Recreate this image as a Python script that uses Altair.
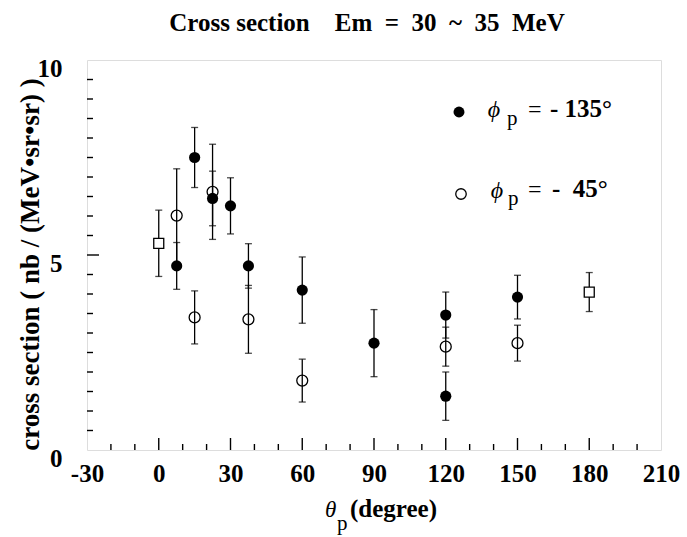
import altair as alt
import pandas as pd

# Measured cross sections (nb / (MeV sr sr)) versus proton angle theta_p (degrees)
theta_135 = [7.5, 15, 22.5, 30, 37.5, 60, 90, 120, 120, 150]
xs_135 = [4.72, 7.50, 6.45, 6.26, 4.72, 4.10, 2.74, 3.46, 1.38, 3.92]
err_135 = [0.60, 0.77, 0.70, 0.72, 0.57, 0.85, 0.86, 0.59, 0.62, 0.56]

theta_45 = [7.5, 15, 22.5, 37.5, 60, 120, 150]
xs_45 = [6.01, 3.40, 6.62, 3.35, 1.78, 2.65, 2.74]
err_45 = [1.20, 0.68, 1.22, 0.87, 0.55, 0.50, 0.46]

theta_sq = [0, 180]
xs_sq = [5.30, 4.05]
err_sq = [0.85, 0.50]

# Axis ticks
x_labels = [-30, 0, 30, 60, 90, 120, 150, 180, 210]
x_major = [0, 30, 60, 90, 120, 150, 180]
x_minor = [-20, -10, 10, 20, 40, 50, 70, 80, 100, 110, 130, 140, 160, 170, 190, 200]
y_labels = [0, 5, 10]
y_major = [5]
y_minor = [0.5, 1, 1.5, 2, 2.5, 3, 3.5, 4, 4.5, 5.5, 6, 6.5, 7, 7.5, 8, 8.5, 9, 9.5]

W, H = 574, 390
SERIF = "Liberation Serif"
NB = "\u00a0"  # non-breaking space keeps the wide gaps in SVG text


def frame(theta, xs, err):
    return pd.DataFrame({
        "theta": theta,
        "xs": xs,
        "lo": [v - e for v, e in zip(xs, err)],
        "hi": [v + e for v, e in zip(xs, err)],
    })


d135 = frame(theta_135, xs_135, err_135)
d45 = frame(theta_45, xs_45, err_45)
dsq = frame(theta_sq, xs_sq, err_sq)

xscale = alt.Scale(domain=[-30, 210], nice=False, zero=False)
yscale = alt.Scale(domain=[0, 10], nice=False, zero=False)

x_axis = alt.Axis(
    values=x_labels, labelExpr="'' + datum.value", tickSize=0, domain=False,
    grid=False, labelFont=SERIF, labelFontSize=25, labelFontWeight="bold",
    labelColor="black", labelPadding=11, labelFlush=False, labelOverlap=False,
    labelBaseline="top", title=None,
)
y_axis = alt.Axis(
    values=y_labels, tickSize=0, domain=False, grid=False, labelFont=SERIF,
    labelFontSize=25, labelFontWeight="bold", labelColor="black",
    labelPadding=25, labelBaseline="top", labelAlign="right", labelOverlap=False,
    labelFlush=False, labelOffset=-4,
    title="cross section ( nb / (MeV\u2022sr\u2022sr) )", titleFont=SERIF,
    titleFontSize=27, titleFontWeight="bold", titleColor="black",
    titleAngle=270, titleX=-49, titleY=204, titleAlign="center",
    titleBaseline="alphabetic",
)

X = lambda f: alt.X(f, scale=xscale, axis=x_axis)
Y = lambda f: alt.Y(f, scale=yscale, axis=y_axis)


def bars(df):
    return alt.Chart(df).mark_errorbar(
        ticks=True, size=7, thickness=1.3, color="black"
    ).encode(x=X("theta:Q"), y=Y("lo:Q"), y2="hi:Q")


open_pts = alt.Chart(d45).mark_point(
    shape="circle", filled=False, size=120, stroke="black", strokeWidth=1.3, opacity=1
).encode(x=X("theta:Q"), y=Y("xs:Q"))
square_pts = alt.Chart(dsq).mark_point(
    shape="square", filled=True, fill="white", size=100, stroke="black",
    strokeWidth=1.3, opacity=1
).encode(x=X("theta:Q"), y=Y("xs:Q"))
filled_pts = alt.Chart(d135).mark_point(
    shape="circle", filled=True, size=125, color="black", opacity=1
).encode(x=X("theta:Q"), y=Y("xs:Q"))


# Inward-pointing ticks on the frame
def xticks(vals, length):
    return alt.Chart(pd.DataFrame({"t": vals})).mark_rule(
        color="black", strokeWidth=1.4
    ).encode(x=X("t:Q"), y=alt.value(H), y2=alt.value(H - length))


def yticks(vals, length):
    return alt.Chart(pd.DataFrame({"t": vals})).mark_rule(
        color="black", strokeWidth=1.4
    ).encode(y=Y("t:Q"), x=alt.value(0), x2=alt.value(length))


one = pd.DataFrame({"k": [0]})


def txt(text, x, y, size=24, weight="bold", style="normal", align="left"):
    return alt.Chart(one).mark_text(
        text=text, font=SERIF, fontSize=size, fontWeight=weight,
        fontStyle=style, align=align, baseline="alphabetic", color="black",
    ).encode(x=alt.value(x), y=alt.value(y))


# Chart heading
heading_text = (
    "Cross section" + NB * 4 + "Em" + NB * 2 + "=" + NB * 2 + "30" + NB * 2
    + "~" + NB * 2 + "35" + NB * 2 + "MeV"
)
heading = txt(heading_text, 280, -29, size=25, align="center")

# Legend
leg_filled = alt.Chart(one).mark_point(
    shape="circle", filled=True, size=120, color="black", opacity=1
).encode(x=alt.value(372), y=alt.value(52))
leg_open = alt.Chart(one).mark_point(
    shape="circle", filled=False, size=110, stroke="black", strokeWidth=1.3, opacity=1
).encode(x=alt.value(374), y=alt.value(134))

legend = [
    leg_filled,
    txt("\u03d5", 407, 57, size=24, weight="normal", style="italic", align="center"),
    txt("p", 420, 65, size=21, weight="normal"),
    txt("=", 441, 57, size=24, weight="normal"),
    txt("-" + NB + "135\u00b0", 463, 57, size=25),
    leg_open,
    txt("\u03d5", 410, 138, size=24, weight="normal", style="italic", align="center"),
    txt("p", 421, 145, size=21, weight="normal"),
    txt("=", 441, 137, size=24, weight="normal"),
    txt("-" + NB + NB + "45\u00b0", 465, 137, size=25),
]

# x-axis title: theta with subscript p
x_title = [
    txt("\u03b8", 238, 457, size=23, weight="normal", style="italic"),
    txt("p", 250, 470, size=21, weight="normal"),
    txt("(degree)", 263, 457, size=25),
]

chart = alt.layer(
    xticks(x_minor, 6), xticks(x_major, 12), yticks(y_minor, 6), yticks(y_major, 12),
    bars(dsq), bars(d45), bars(d135),
    square_pts, open_pts, filled_pts,
    heading, *legend, *x_title,
).properties(
    width=W, height=H,
    autosize=alt.AutoSizeParams(type="none"),
    padding={"left": 87, "top": 60, "right": 26, "bottom": 87},
).configure_view(stroke="black", strokeWidth=2).configure(background="white")

chart.save("out.html", embed_options={"renderer": "svg", "actions": False})
